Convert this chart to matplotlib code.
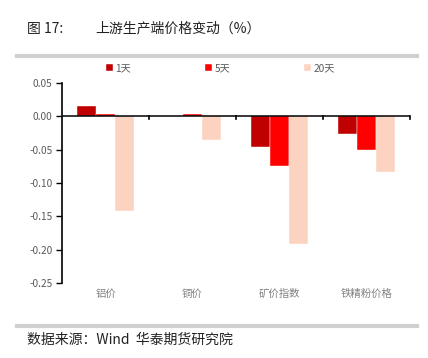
import matplotlib.pyplot as plt
import numpy as np

plt.rcParams['font.family'] = ['Noto Sans CJK SC', 'DejaVu Sans']

categories = ['铝价', '铜价', '矿价指数', '铁精粉价格']
series_names = ['1天', '5天', '20天']
day1 = [0.015, 0.0, -0.046, -0.026]
day5 = [0.003, 0.003, -0.075, -0.050]
day20 = [-0.142, -0.035, -0.191, -0.084]
colors = ['#C00000', '#FF0000', '#FBD3C0']
yticks = [0.05, 0.0, -0.05, -0.10, -0.15, -0.20, -0.25]

fig = plt.figure(figsize=(4.28, 3.58), dpi=100)
ax = fig.add_axes([0.145, 0.2095, 0.813, 0.559])

x = np.arange(len(categories))
w = 0.22
handles = []
for i, (vals, c) in enumerate(zip([day1, day5, day20], colors)):
    h = ax.bar(x + (i - 1) * w, vals, width=w, color=c, edgecolor='white', linewidth=0.3)
    handles.append(h)

ax.set_xlim(-0.5, len(categories) - 0.5)
ax.set_ylim(-0.25, 0.05)
ax.set_yticks(yticks)
ax.set_yticklabels([f'{v:.2f}' for v in yticks], fontsize=7.3, color='#595959')
ax.tick_params(axis='y', direction='out', length=4, width=1, pad=3)

# category axis sits on y = 0
ax.set_xticks([])
for s in ['top', 'right', 'bottom']:
    ax.spines[s].set_visible(False)
ax.spines['left'].set_linewidth(1.2)
ax.axhline(0, color='black', lw=1.1, zorder=3)
for b in np.arange(0.5, len(categories), 1.0):
    ax.plot([b, b], [0, -0.004], color='black', lw=1.2, clip_on=False, zorder=3)
for xi, lab in zip(x, categories):
    ax.text(xi, -0.266, lab, ha='center', va='center', fontsize=7.5, color='#808080')

leg = ax.legend(handles, series_names, loc='center', bbox_to_anchor=(0.455, 1.075), ncol=3,
                frameon=False, fontsize=7.3, handlelength=0.7, handleheight=0.7,
                handletextpad=0.2, columnspacing=7.3, labelcolor='#595959')

fig.text(0.063, 0.92, '图 17:', fontsize=10, va='center', color='#222222')
fig.text(0.222, 0.92, '上游生产端价格变动（%）', fontsize=10, va='center', color='#222222')
fig.add_artist(plt.Line2D([0.04, 0.975], [0.843, 0.843], color='#D0D0D0', lw=3))
fig.add_artist(plt.Line2D([0.04, 0.975], [0.089, 0.089], color='#D0D0D0', lw=3))
fig.text(0.063, 0.05, '数据来源：Wind  华泰期货研究院', fontsize=10, va='center', color='#222222')

fig.savefig('out.png', dpi=100)
